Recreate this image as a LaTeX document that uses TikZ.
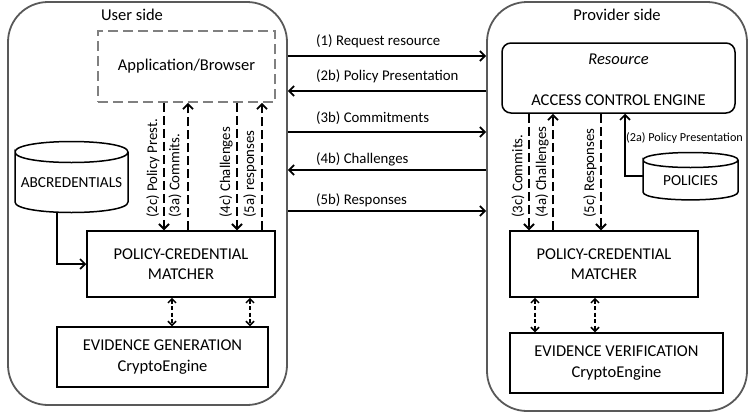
\documentclass[tikz,border=0pt]{standalone}
\usepackage{fontspec}
\setmainfont{Carlito}
\usetikzlibrary{arrows.meta,calc}
\definecolor{outergray}{RGB}{89,89,89}
\definecolor{dashgray}{RGB}{128,128,128}
\newcommand\boxfont{\fontsize{16.5}{20.5}\selectfont}
\newcommand\lblfont{\fontsize{14.8}{17}\selectfont}
\newcommand\smlblfont{\fontsize{12.2}{14}\selectfont}
\newcommand\cylfont{\fontsize{15.3}{18}\selectfont}
\begin{document}
\begin{tikzpicture}[x=1pt,y=-1pt,
  outer/.style={draw=outergray, line width=1.8pt, rounded corners=40pt, inner sep=0pt},
  box/.style={draw, line width=1.5pt, align=center, inner sep=0pt, font=\boxfont},
  appbox/.style={draw=dashgray, line width=1.8pt, dash pattern=on 10pt off 5pt, inner sep=0pt, font=\boxfont},
  title/.style={font=\boxfont, inner sep=0pt},
  lbl/.style={font=\lblfont, inner sep=1pt},
  cyl/.style={line width=1.5pt},
  conn/.style={line width=1.7pt, -{Straight Barb[length=5pt,width=10pt]}},
  vd/.style={line width=1.8pt, dash pattern=on 9pt off 4pt, -{Straight Barb[length=5pt,width=10pt]}},
  dd/.style={line width=1.5pt, dash pattern=on 4pt off 2.5pt, {Straight Barb[length=4pt,width=8pt]}-{Straight Barb[length=4pt,width=8pt]}}
]
\useasboundingbox (0,0) rectangle (748,413);

% outer containers
\node[outer, minimum width=279, minimum height=403] (userbox) at (147.5,203.5) {};
\node[outer, minimum width=260, minimum height=409] (provbox) at (617,206.5) {};
\node[title] (usertitle) at (132,15) {User side};
\node[title] (provtitle) at (617,15) {Provider side};

% user side
\node[appbox, minimum width=177, minimum height=71] (app) at (186.5,66.5) {Application/Browser};
\node[box, minimum width=188, minimum height=66] (pcmU) at (181,264) {POLICY-CREDENTIAL\\MATCHER};
\node[box, minimum width=211, minimum height=60] (egU) at (162.5,357) {EVIDENCE GENERATION\\CryptoEngine};

\node[inner sep=0pt, minimum width=113, minimum height=70, font=\cylfont] (abc) at (71.5,177) {};
\draw[cyl] (15,152) .. controls (15,138) and (128,138) .. (128,152)
  .. controls (128,166) and (15,166) .. (15,152) -- (15,202)
  .. controls (15,216) and (128,216) .. (128,202) -- (128,152);
\node[font=\cylfont, inner sep=0pt] (abctext) at (71.5,183) {ABCREDENTIALS};

% provider side
\node[box, rounded corners=9pt, minimum width=233, minimum height=70] (ace) at (618.5,78) {};
\node[title, font=\boxfont\itshape] (res) at (618.5,59) {Resource};
\node[title] (acetext) at (618.5,100) {ACCESS CONTROL ENGINE};
\node[box, minimum width=188, minimum height=66] (pcmP) at (604,264) {POLICY-CREDENTIAL\\MATCHER};
\node[box, minimum width=213, minimum height=60] (evP) at (616.5,363) {EVIDENCE VERIFICATION\\CryptoEngine};

\node[inner sep=0pt, minimum width=95, minimum height=48] (pol) at (690.5,176) {};
\draw[cyl] (643,160) .. controls (643,150) and (738,150) .. (738,160)
  .. controls (738,170) and (643,170) .. (643,160) -- (643,192)
  .. controls (643,202.5) and (738,202.5) .. (738,192) -- (738,160);
\node[font=\cylfont, inner sep=0pt] (poltext) at (690.5,181) {POLICIES};

% policy connector
\draw[conn] (pol.west) -| (625,0 |- ace.south);
\node[lbl, font=\smlblfont, anchor=west] (l2a) at (625,138) {(2a) Policy Presentation};

% credentials connector
\draw[conn] (abc.south -| 57,0) |- (pcmU.west);

% horizontal messages
\coordinate (h1) at (0,56);
\coordinate (h2) at (0,91);
\coordinate (h3) at (0,132);
\coordinate (h4) at (0,170);
\coordinate (h5) at (0,211);
\draw[conn] (userbox.east |- h1) -- (provbox.west |- h1);
\draw[conn] (provbox.west |- h2) -- (userbox.east |- h2);
\draw[conn] (userbox.east |- h3) -- (provbox.west |- h3);
\draw[conn] (provbox.west |- h4) -- (userbox.east |- h4);
\draw[conn] (userbox.east |- h5) -- (provbox.west |- h5);
\node[lbl, anchor=west] (l1) at (315,41) {(1) Request resource};
\node[lbl, anchor=west] (l2b) at (315,76) {(2b) Policy Presentation};
\node[lbl, anchor=west] (l3b) at (315,118) {(3b) Commitments};
\node[lbl, anchor=west] (l4b) at (315,159) {(4b) Challenges};
\node[lbl, anchor=west] (l5b) at (315,200) {(5b) Responses};

% user vertical dashed arrows
\draw[vd] (164,0 |- app.south) -- (164,0 |- pcmU.north);
\draw[vd] (188,0 |- pcmU.north) -- (188,0 |- app.south);
\draw[vd] (237,0 |- app.south) -- (237,0 |- pcmU.north);
\draw[vd] (262,0 |- pcmU.north) -- (262,0 |- app.south);
\node[lbl, rotate=90, anchor=west] (l2c) at (153,219) {(2c) Policy Prest.};
\node[lbl, rotate=90, anchor=west] (l3a) at (175,219) {(3a) Commits.};
\node[lbl, rotate=90, anchor=west] (l4c) at (226,219) {(4c) Challenges};
\node[lbl, rotate=90, anchor=west] (l5a) at (250,219) {(5a) responses};

% provider vertical dashed arrows
\draw[vd] (529,0 |- ace.south) -- (529,0 |- pcmP.north);
\draw[vd] (553,0 |- pcmP.north) -- (553,0 |- ace.south);
\draw[vd] (601,0 |- ace.south) -- (601,0 |- pcmP.north);
\node[lbl, rotate=90, anchor=west] (l3c) at (518,219) {(3c) Commits.};
\node[lbl, rotate=90, anchor=west] (l4a) at (542,219) {(4a) Challenges};
\node[lbl, rotate=90, anchor=west] (l5c) at (590,219) {(5c) Responses};

% matcher <-> crypto engine
\draw[dd] (172,0 |- pcmU.south) -- (172,0 |- egU.north);
\draw[dd] (250,0 |- pcmU.south) -- (250,0 |- egU.north);
\draw[dd] (535,0 |- pcmP.south) -- (535,0 |- evP.north);
\draw[dd] (595,0 |- pcmP.south) -- (595,0 |- evP.north);
\end{tikzpicture}
\end{document}
